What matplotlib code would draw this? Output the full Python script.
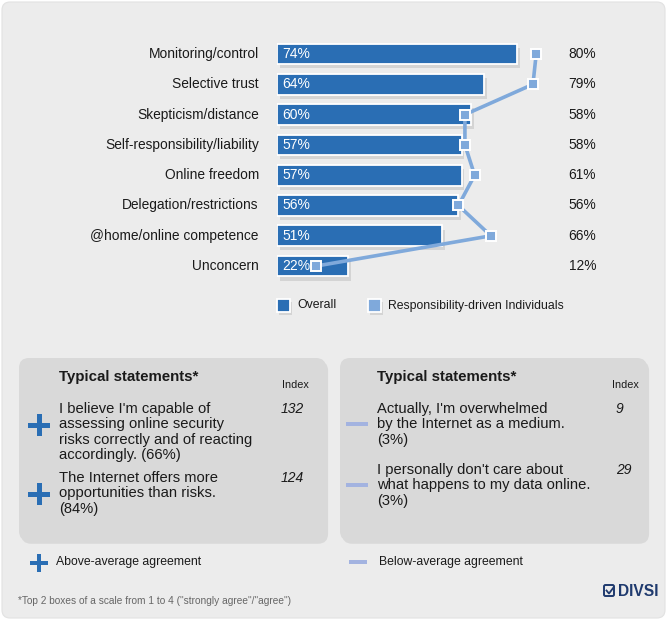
import matplotlib
matplotlib.use("Agg")
import matplotlib.pyplot as plt
import matplotlib.patheffects as pe
from matplotlib.patches import FancyBboxPatch, Rectangle
import numpy as np

plt.rcParams["font.family"] = ["Liberation Sans", "DejaVu Sans"]

# data
categories = [
    "Monitoring/control",
    "Selective trust",
    "Skepticism/distance",
    "Self-responsibility/liability",
    "Online freedom",
    "Delegation/restrictions",
    "@home/online competence",
    "Unconcern",
]
overall = [74, 64, 60, 57, 57, 56, 51, 22]
responsibility_driven = [80, 79, 58, 58, 61, 56, 66, 12]

series_names = ["Overall", "Responsibility-driven Individuals"]

box_title = "Typical statements*"
above_statements = [
    ["I believe I'm capable of", "assessing online security",
     "risks correctly and of reacting", "accordingly. (66%)"],
    ["The Internet offers more", "opportunities than risks.", "(84%)"],
]
above_index = ["132", "124"]
below_statements = [
    ["Actually, I'm overwhelmed", "by the Internet as a medium.", "(3%)"],
    ["I personally don't care about", "what happens to my data online.", "(3%)"],
]
below_index = ["9", "29"]
footnote = '*Top 2 boxes of a scale from 1 to 4 ("strongly agree"/"agree")'

DARK = "#2a6eb4"
LIGHT = "#7fa9db"
MINUS = "#a3b3e0"
BG = "#ececec"
BOX = "#d9d9d9"
TXT = "#1a1a1a"

W, H = 670, 624
fig = plt.figure(figsize=(W / 100, H / 100), dpi=100)
fig.patch.set_facecolor("white")

# background layer in pixel coordinates
bg = fig.add_axes([0, 0, 1, 1], zorder=0)
bg.set_xlim(0, W)
bg.set_ylim(H, 0)
bg.axis("off")

bg.add_patch(FancyBboxPatch((2, 2), 663, 616, boxstyle="round,pad=0,rounding_size=8",
                            fc=BG, ec="#e2e2e2", lw=0.8))

shadow = [pe.SimplePatchShadow(offset=(1.5, -2), shadow_rgbFace="#b8b8b8", alpha=0.35), pe.Normal()]
for x0 in (19, 340):
    bg.add_patch(FancyBboxPatch((x0, 358), 307, 183, boxstyle="round,pad=0,rounding_size=10",
                                fc=BOX, ec="none", path_effects=shadow))


def plus(cx, cy, size, th):
    bg.add_patch(Rectangle((cx - size / 2, cy - th / 2), size, th, fc=DARK, ec="none"))
    bg.add_patch(Rectangle((cx - th / 2, cy - size / 2), th, size, fc=DARK, ec="none"))


def minus(cx, cy, size, th):
    bg.add_patch(Rectangle((cx - size / 2, cy - th / 2), size, th, fc=MINUS, ec="none"))


# left box
bg.text(59, 377, box_title, fontsize=10.8, fontweight="bold", color=TXT, va="center")
bg.text(282, 385, "Index", fontsize=7.8, color=TXT, va="center")
starts = [409, 478]
for lines, idx, y0 in zip(above_statements, above_index, starts):
    for k, ln in enumerate(lines):
        bg.text(59, y0 + k * 15.3, ln, fontsize=10.6, color=TXT, va="center")
    bg.text(281, y0, idx, fontsize=10, style="italic", color=TXT, va="center")
    plus(39, y0 + 16, 22, 5)

# right box
bg.text(377, 377, box_title, fontsize=10.8, fontweight="bold", color=TXT, va="center")
bg.text(612, 385, "Index", fontsize=7.8, color=TXT, va="center")
starts = [409, 470]
for lines, idx, y0 in zip(below_statements, below_index, starts):
    for k, ln in enumerate(lines):
        bg.text(377, y0 + k * 15.3, ln, fontsize=10.6, color=TXT, va="center")
    bg.text(616, y0, idx, fontsize=10, style="italic", color=TXT, va="center")
    minus(357, y0 + 15, 22, 4)

# agreement legend
plus(39, 563, 18, 4)
bg.text(56, 562, "Above-average agreement", fontsize=8.8, color=TXT, va="center")
minus(358, 562, 18, 4)
bg.text(379, 562, "Below-average agreement", fontsize=8.8, color=TXT, va="center")

bg.text(18, 601, footnote, fontsize=7.3, color="#666666", va="center")

# DIVSI logo
bg.add_patch(FancyBboxPatch((604, 585), 10, 11, boxstyle="round,pad=0,rounding_size=1.5",
                            fc="none", ec="#1f3a6e", lw=1.4))
bg.plot([606.5, 609, 613.5], [590.5, 593.5, 587.5], color="#1f3a6e", lw=1.3)
bg.text(618, 591, "DIVSI", fontsize=11.2, fontweight="bold", color="#1f3a6e", va="center")

# bar chart axes: 0% at x=277 px, 3.24 px per %, rows 30.3 px apart starting at y=54
px_per_pct = 3.24
row = 30.3
top = 54 - row / 2
ax = fig.add_axes([277 / W, 1 - (top + row * 8) / H, 100 * px_per_pct / W, row * 8 / H], zorder=1)
ax.set_xlim(0, 100)
ax.set_ylim(7.5, -0.5)
ax.axis("off")
ax.patch.set_alpha(0)

y = np.arange(len(categories))
bar_shadow = [pe.SimplePatchShadow(offset=(2, -3), shadow_rgbFace="#a8a8a8", alpha=0.35), pe.Normal()]
ax.barh(y, overall, height=0.68, color=DARK, edgecolor="white", linewidth=1.3,
        path_effects=bar_shadow, zorder=2)
ax.plot(responsibility_driven, y, color=LIGHT, lw=2.6, zorder=3,
        marker="s", markersize=6.5, markerfacecolor=LIGHT, markeredgecolor="white",
        markeredgewidth=1.4)

for yi, name, v, r in zip(y, categories, overall, responsibility_driven):
    ax.text(-5.6, yi, name, ha="right", va="center", fontsize=9.9, color=TXT)
    ax.text(1.6, yi, f"{v}%", ha="left", va="center", fontsize=10, color="white", zorder=4)
    ax.text(90.0, yi, f"{r}%", ha="left", va="center", fontsize=9.9, color=TXT)

# series legend
sq_shadow = [pe.SimplePatchShadow(offset=(1.5, -2), shadow_rgbFace="#a8a8a8", alpha=0.35), pe.Normal()]
for x0, col, name in [(277, DARK, series_names[0]), (368, LIGHT, series_names[1])]:
    bg.add_patch(Rectangle((x0, 299), 13, 13, fc=col, ec="white", lw=1.3, path_effects=sq_shadow))
    bg.text(x0 + 20, 305.5, name, fontsize=8.8, color=TXT, va="center")

fig.savefig("out.png", dpi=100, facecolor=fig.get_facecolor())
